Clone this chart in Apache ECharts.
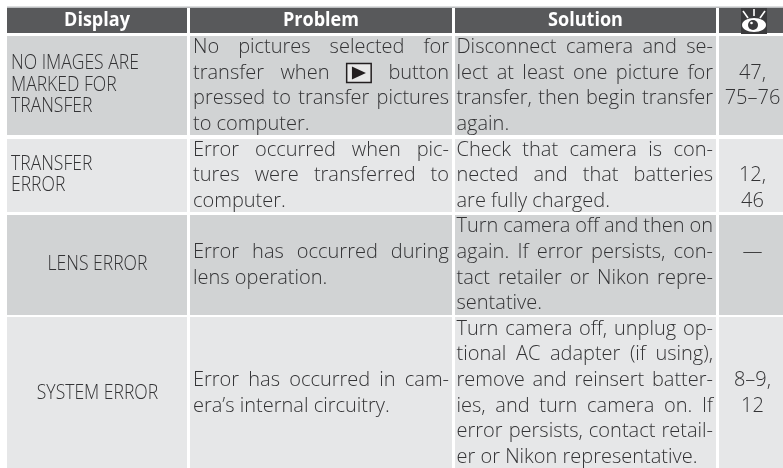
<!DOCTYPE html>
<html><head><meta charset="utf-8">
<style>html,body{margin:0;padding:0;background:#fff}#c{width:783px;height:468px}</style>
<script src="https://cdn.jsdelivr.net/npm/echarts@6/dist/echarts.min.js"></script>
</head><body><div id="c"></div>
<script>
const headers = ['Display', 'Problem', 'Solution'];
const displayCol = [
  ['NO IMAGES ARE', 'MARKED FOR', 'TRANSFER'],
  ['TRANSFER', 'ERROR'],
  ['LENS ERROR'],
  ['SYSTEM ERROR']
];
const problemCol = [
  ['No pictures selected for', 'transfer when \u25B6 button', 'pressed to transfer pictures', 'to computer.'],
  ['Error occurred when pic-', 'tures were transferred to', 'computer.'],
  ['Error has occurred during', 'lens operation.'],
  ['Error has occurred in cam-', 'era\u2019s internal circuitry.']
];
const solutionCol = [
  ['Disconnect camera and se-', 'lect at least one picture for', 'transfer, then begin transfer', 'again.'],
  ['Check that camera is con-', 'nected and that batteries', 'are fully charged.'],
  ['Turn camera off and then on', 'again. If error persists, con-', 'tact retailer or Nikon repre-', 'sentative.'],
  ['Turn camera off, unplug op-', 'tional AC adapter (if using),', 'remove and reinsert batter-', 'ies, and turn camera on. If', 'error persists, contact retail-', 'er or Nikon representative.']
];
const pageCol = [['47,', '75\u201376'], ['12,', '46'], ['\u2014'], ['8\u20139,', '12']];

// layout
const colEdges = [[7, 187], [190, 452], [455, 716], [719, 783]];
const rowEdges = [[8, 33], [36, 135], [139, 212], [215, 315], [317, 468]];
const rowFill = ['#d1d3d4', '#e6e7e8'];
const headFill = '#58595b';
const ink = '#333335';
const bodyFont = '300 20px "Open Sans"';
const dispFont = '300 19.5px "Open Sans"';
const headFont = '700 19px "Open Sans"';
const gridTop = 47.5, pitch = 25.6;
const firstLine = {problem: [0, 4, 8, 13], solution: [0, 4, 7, 11], page: [1, 5, 8, 13]};
const dispCenter = [85, 175, 264, 393];
const dispLeft = [11, 11, null, null];
const dispScale = 0.9;

const ctx = document.createElement('canvas').getContext('2d');
function tw(t, f) { ctx.font = f; return ctx.measureText(t).width; }

function textEl(t, x, y, f, fill, align, sx) {
  return {type: 'text', x: x, y: y, scaleX: sx || 1, silent: true,
    style: {x: 0, y: 0, text: t, font: f, fill: fill, align: align || 'left', verticalAlign: 'middle'}};
}
function playIcon(x, y) {
  return [
    {type: 'rect', shape: {x: x + 0.75, y: y - 9.5, width: 24.5, height: 19}, style: {fill: '#e8e8e8', stroke: '#231f20', lineWidth: 1.5}},
    {type: 'polygon', shape: {points: [[x + 6, y - 6.5], [x + 20, y], [x + 6, y + 6.5]]}, style: {fill: '#231f20'}}
  ];
}
const ICON_W = 26;
function justified(line, left, right, y, stretch) {
  const words = line.split(' ');
  const widths = words.map(w => w === '\u25B6' ? ICON_W : tw(w, bodyFont));
  const sum = widths.reduce((a, b) => a + b, 0);
  const space = tw(' ', bodyFont);
  const gap = stretch && words.length > 1 ? (right - left - sum) / (words.length - 1) : space;
  let x = left, out = [];
  words.forEach((w, i) => {
    if (w === '\u25B6') out = out.concat(playIcon(x, y));
    else out.push(textEl(w, x, y, bodyFont, ink));
    x += widths[i] + gap;
  });
  return out;
}
function paragraph(lines, first, left, right) {
  let out = [];
  lines.forEach((l, i) => {
    out = out.concat(justified(l, left, right, gridTop + pitch * (first + i), i < lines.length - 1));
  });
  return out;
}
function eyeIcon(cx, top) {
  const dark = '#3a3a3c';
  return [
    {type: 'rect', shape: {x: cx - 13, y: top, width: 26, height: 26}, style: {fill: dark}},
    {type: 'ellipse', shape: {cx: cx, cy: top + 17, rx: 12, ry: 7}, style: {fill: '#fff'}},
    {type: 'circle', shape: {cx: cx - 1, cy: top + 17, r: 5}, style: {fill: dark}},
    {type: 'circle', shape: {cx: cx - 2.5, cy: top + 15, r: 1.3}, style: {fill: '#fff'}},
    {type: 'line', shape: {x1: cx, y1: top + 1, x2: cx, y2: top + 8}, style: {stroke: '#fff', lineWidth: 1.6}},
    {type: 'line', shape: {x1: cx - 11, y1: top + 3, x2: cx - 6, y2: top + 10}, style: {stroke: '#fff', lineWidth: 1.6}},
    {type: 'line', shape: {x1: cx + 11, y1: top + 3, x2: cx + 6, y2: top + 10}, style: {stroke: '#fff', lineWidth: 1.6}}
  ];
}

// one datum per table cell: [column, row]
const cells = [];
for (let r = 0; r < rowEdges.length; r++) for (let c = 0; c < colEdges.length; c++) cells.push([c, r]);

function renderCell(params, api) {
  const c = api.value(0), r = api.value(1);
  const tl = api.coord([colEdges[c][0], rowEdges[r][0]]);
  const br = api.coord([colEdges[c][1], rowEdges[r][1]]);
  const w = br[0] - tl[0], h = br[1] - tl[1];
  const fill = r === 0 ? headFill : rowFill[(r - 1) % 2];
  let kids = [{type: 'rect', shape: {x: tl[0], y: tl[1], width: w, height: h}, style: {fill: fill}}];
  const d = r - 1;
  if (r === 0) {
    if (c < 3) kids.push(textEl(headers[c], (tl[0] + br[0]) / 2, 20.5, headFont, '#ffffff', 'center', 0.95));
    else kids = kids.concat(eyeIcon(754, 8));
  } else if (c === 0) {
    const lines = displayCol[d];
    lines.forEach((l, i) => {
      const y = dispCenter[d] + (i - (lines.length - 1) / 2) * 21.5;
      if (dispLeft[d] !== null) kids.push(textEl(l, dispLeft[d], y, dispFont, ink, 'left', dispScale));
      else kids.push(textEl(l, (tl[0] + br[0]) / 2 + 0.5, y, dispFont, ink, 'center', dispScale));
    });
  } else if (c === 1) {
    kids = kids.concat(paragraph(problemCol[d], firstLine.problem[d], 193, 449));
  } else if (c === 2) {
    kids = kids.concat(paragraph(solutionCol[d], firstLine.solution[d], 456.5, 713));
  } else {
    pageCol[d].forEach((l, i) => kids.push(textEl(l, 752.5, gridTop + pitch * (firstLine.page[d] + i), bodyFont, ink, 'center')));
  }
  return {type: 'group', children: kids};
}

const chart = echarts.init(document.getElementById('c'), null, {renderer: 'canvas'});
chart.setOption({
  animation: false,
  backgroundColor: '#ffffff',
  grid: {left: 0, right: 0, top: 0, bottom: 0},
  xAxis: {type: 'value', min: 0, max: 783, show: false},
  yAxis: {type: 'value', min: 0, max: 468, inverse: true, show: false},
  graphic: [{type: 'rect', silent: true, z: -1, shape: {x: 7, y: 6.5, width: 776, height: 1.5}, style: {fill: '#bcbec0'}}],
  series: [{type: 'custom', coordinateSystem: 'cartesian2d', data: cells, renderItem: renderCell, clip: false, silent: true}]
});
</script></body></html>
